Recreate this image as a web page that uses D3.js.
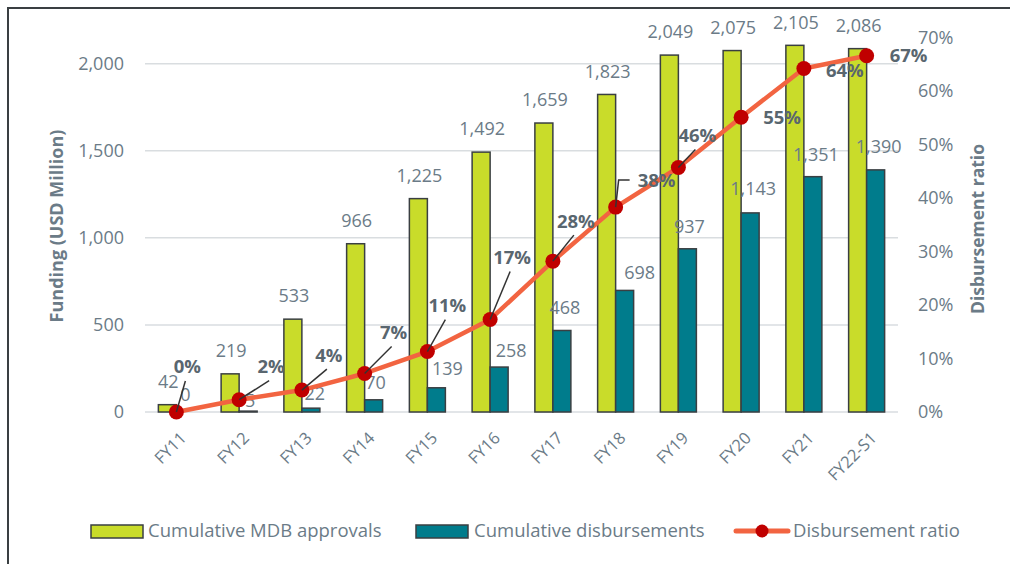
<!DOCTYPE html>
<html><head><meta charset="utf-8">
<script src="https://cdn.jsdelivr.net/npm/d3@7"></script>
<style>body{margin:0;background:#fff}svg{display:block;font-family:"Open Sans",sans-serif}</style>
</head><body><svg id="c" width="1010" height="564"></svg>
<script>
const categories = ["FY11","FY12","FY13","FY14","FY15","FY16","FY17","FY18","FY19","FY20","FY21","FY22-S1"];
const approvals = [42,219,533,966,1225,1492,1659,1823,2049,2075,2105,2086];
const disbursements = [0,5,22,70,139,258,468,698,937,1143,1351,1390];
const ratio = [0.0,2.3,4.1,7.2,11.3,17.3,28.2,38.3,45.7,55.1,64.2,66.6];
const leftTicks = [0,500,1000,1500,2000];
const rightTicks = [0,10,20,30,40,50,60,70];
// annotation layout: [dx, dy, leaderType] from each point
const pctLabelOffsets = [[11,-45,1],[32,-33,1],[27,-35,1],[29,-41,1],[20,-46,1],[22,-62,1],[23,-40,1],[41,-27,2],[19,-32,1],[41,0,0],[41,2,0],[42,0,0]];
const discLabelOffsets = [[0,-17],[2,-10],[4,-14],[2,-17],[11,-19],[12,-16],[3,-23],[15,-18],[2,-22],[3,-24],[3,-22],[3,-23]];

const svg = d3.select("#c");
const m = {left:145,right:898,top:37.5,bottom:412};
const x = d3.scaleBand().domain(categories).range([m.left,m.right]).paddingInner(0).paddingOuter(0);
const yL = d3.scaleLinear().domain([0,2150]).range([m.bottom,m.top]);
const yR = d3.scaleLinear().domain([0,70]).range([m.bottom,m.top]);
const txt="#6b7b87", bold="#59666f";
const fs = 18;

svg.append("rect").attr("x",8).attr("y",8).attr("width",1100).attr("height",700).attr("fill","none").attr("stroke","#3a3f42").attr("stroke-width",2);

svg.append("g").selectAll("line").data(leftTicks).join("line")
  .attr("x1",m.left).attr("x2",m.right).attr("y1",d=>yL(d)).attr("y2",d=>yL(d))
  .attr("stroke","#d9dde0").attr("stroke-width",1.5);

const axL = svg.append("g").attr("transform",`translate(${m.left},0)`)
  .call(d3.axisLeft(yL).tickValues(leftTicks).tickFormat(d3.format(",")).tickSize(0).tickPadding(21));
axL.select(".domain").remove();
axL.selectAll("text").attr("fill",txt).attr("font-size",fs).attr("font-family","Open Sans");

const axR = svg.append("g").attr("transform",`translate(${m.right},0)`)
  .call(d3.axisRight(yR).tickValues(rightTicks).tickFormat(d=>d+"%").tickSize(0).tickPadding(20));
axR.select(".domain").remove();
axR.selectAll("text").attr("fill",txt).attr("font-size",fs).attr("font-family","Open Sans");

const axX = svg.append("g").attr("transform",`translate(0,${m.bottom})`)
  .call(d3.axisBottom(x).tickSize(0).tickPadding(0));
axX.select(".domain").remove();
axX.selectAll("text").attr("fill",txt).attr("font-size",16.5).attr("font-family","Open Sans")
  .attr("text-anchor","end").attr("dy","0.35em").attr("y",0)
  .attr("transform","translate(7,23) rotate(-45)");

svg.append("text").attr("transform","translate(63,226) rotate(-90)").attr("text-anchor","middle")
  .attr("font-size",18).attr("font-weight","bold").attr("fill",txt).text("Funding (USD Million)");
svg.append("text").attr("transform","translate(984,229) rotate(-90)").attr("text-anchor","middle")
  .attr("font-size",17.5).attr("font-weight","bold").attr("fill",txt).text("Disbursement ratio");

const bw = 18;
const cx = c => x(c)+x.bandwidth()/2;
svg.append("g").selectAll("rect").data(categories).join("rect")
  .attr("x",c=>cx(c)-bw).attr("width",bw)
  .attr("y",(c,i)=>yL(approvals[i])).attr("height",(c,i)=>m.bottom-yL(approvals[i]))
  .attr("fill","#c9dc2a").attr("stroke","#3a3f42").attr("stroke-width",1.5);
svg.append("g").selectAll("rect").data(categories).join("rect")
  .attr("x",c=>cx(c)).attr("width",bw)
  .attr("y",(c,i)=>yL(disbursements[i])).attr("height",(c,i)=>m.bottom-yL(disbursements[i]))
  .attr("fill","#007c8c").attr("stroke","#3a3f42").attr("stroke-width",1.5);

svg.append("g").selectAll("text").data(categories).join("text")
  .attr("x",c=>cx(c)-bw/2+1).attr("y",(c,i)=>yL(approvals[i])-23).attr("dy","0.35em")
  .attr("text-anchor","middle").attr("font-size",fs).attr("fill",txt)
  .text((c,i)=>d3.format(",")(approvals[i]));
svg.append("g").selectAll("text").data(categories).join("text")
  .attr("x",(c,i)=>cx(c)+bw/2+discLabelOffsets[i][0]).attr("y",(c,i)=>yL(disbursements[i])+discLabelOffsets[i][1]).attr("dy","0.35em")
  .attr("text-anchor","middle").attr("font-size",fs).attr("fill",txt)
  .text((c,i)=>d3.format(",")(disbursements[i]));

const line = d3.line().x((d,i)=>cx(categories[i])).y(d=>yR(d));
svg.append("path").datum(ratio).attr("d",line).attr("fill","none")
  .attr("stroke","#f26441").attr("stroke-width",4.5).attr("stroke-linejoin","round");
svg.append("g").selectAll("circle").data(ratio).join("circle")
  .attr("cx",(d,i)=>cx(categories[i])).attr("cy",d=>yR(d)).attr("r",7.5).attr("fill","#c00000");

const lg = svg.append("g");
ratio.forEach((d,i)=>{
  const px=cx(categories[i]), py=yR(d);
  const [dx,dy,f]=pctLabelOffsets[i];
  if(f===1){
    lg.append("line").attr("x1",px).attr("y1",py).attr("x2",px+dx-Math.sign(dx)*2).attr("y2",py+dy+14)
      .attr("stroke","#333").attr("stroke-width",1.5);
  } else if(f===2){
    lg.append("polyline").attr("points",`${px},${py} ${px+3},${py+dy} ${px+14},${py+dy}`)
      .attr("fill","none").attr("stroke","#333").attr("stroke-width",1.5);
  }
  lg.append("text").attr("x",px+dx).attr("y",py+dy).attr("dy","0.35em").attr("text-anchor","middle")
    .attr("font-size",18.5).attr("font-weight","bold").attr("fill",bold).text(Math.round(d)+"%");
});

const leg = svg.append("g").attr("font-size",18.5).attr("fill",txt);
leg.append("rect").attr("x",91).attr("y",525).attr("width",52).attr("height",13).attr("fill","#c9dc2a").attr("stroke","#3a3f42").attr("stroke-width",1.5);
leg.append("text").attr("x",148).attr("y",531).attr("dy","0.35em").attr("fill",txt).text("Cumulative MDB approvals");
leg.append("rect").attr("x",416).attr("y",525).attr("width",52).attr("height",13).attr("fill","#007c8c").attr("stroke","#3a3f42").attr("stroke-width",1.5);
leg.append("text").attr("x",474).attr("y",531).attr("dy","0.35em").attr("fill",txt).text("Cumulative disbursements");
leg.append("line").attr("x1",736).attr("x2",788).attr("y1",531).attr("y2",531).attr("stroke","#f26441").attr("stroke-width",5).attr("stroke-linecap","round");
leg.append("circle").attr("cx",762).attr("cy",531).attr("r",6.5).attr("fill","#c00000");
leg.append("text").attr("x",793).attr("y",531).attr("dy","0.35em").attr("fill",txt).text("Disbursement ratio");
</script></body></html>
